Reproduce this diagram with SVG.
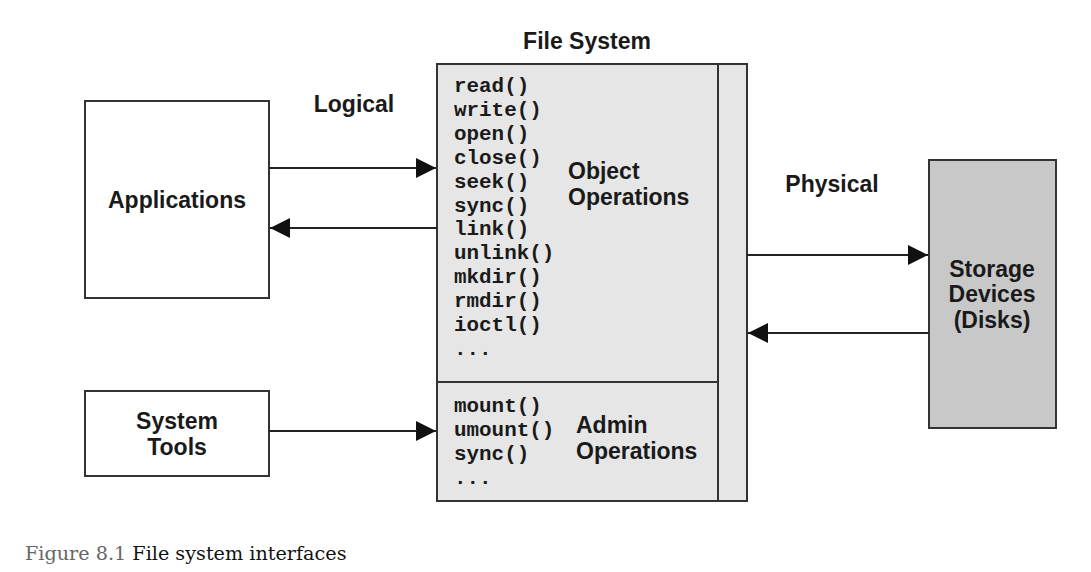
<svg xmlns="http://www.w3.org/2000/svg" width="1091" height="572" viewBox="0 0 1091 572">
<defs>
<style>
.box{stroke:#333;stroke-width:2}
.lbl{font-family:"Liberation Sans",Arial,sans-serif;font-weight:bold;font-size:23px;fill:#1a1a1a}
.mono{font-family:"Liberation Mono","Courier New",monospace;font-weight:bold;font-size:20.9px;fill:#1a1a1a}
.ln{stroke:#222;stroke-width:2;fill:none}
.cap{font-family:"DejaVu Serif","Liberation Serif",serif;font-size:19.2px}
</style>
<marker id="ah" viewBox="0 0 10 10" refX="10" refY="5" markerWidth="20" markerHeight="20" markerUnits="userSpaceOnUse" orient="auto">
<path d="M0,0 L10,5 L0,10 Z" fill="#111"/>
</marker>
</defs>
<rect width="1091" height="572" fill="#fff"/>
<g id="filesystem">
<rect class="box" x="437" y="64" width="310" height="437" fill="#e6e6e6"/>
<line class="box" x1="718" y1="64" x2="718" y2="501"/>
<line class="box" x1="437" y1="382" x2="718" y2="382"/>
<text class="lbl" x="587" y="49" text-anchor="middle">File System</text>
<g class="mono">
<text x="454" y="92">read()</text>
<text x="454" y="116">write()</text>
<text x="454" y="140">open()</text>
<text x="454" y="164">close()</text>
<text x="454" y="188">seek()</text>
<text x="454" y="212">sync()</text>
<text x="454" y="235">link()</text>
<text x="454" y="259">unlink()</text>
<text x="454" y="283">mkdir()</text>
<text x="454" y="307">rmdir()</text>
<text x="454" y="331">ioctl()</text>
<text x="454" y="355">...</text>
<text x="454" y="412">mount()</text>
<text x="454" y="436">umount()</text>
<text x="454" y="460">sync()</text>
<text x="454" y="484">...</text>
</g>
<text class="lbl" x="568" y="179">Object</text>
<text class="lbl" x="568" y="205">Operations</text>
<text class="lbl" x="576" y="433">Admin</text>
<text class="lbl" x="576" y="459">Operations</text>
</g>
<g id="applications">
<rect class="box" x="85" y="101" width="184" height="197" fill="#fff"/>
<text class="lbl" x="177" y="208" text-anchor="middle">Applications</text>
</g>
<g id="systemtools">
<rect class="box" x="85" y="391" width="184" height="85" fill="#fff"/>
<text class="lbl" x="177" y="429" text-anchor="middle">System</text>
<text class="lbl" x="177" y="455" text-anchor="middle">Tools</text>
</g>
<g id="storage">
<rect class="box" x="929" y="160" width="127" height="268" fill="#c8c8c8"/>
<text class="lbl" x="992" y="277" text-anchor="middle">Storage</text>
<text class="lbl" x="992" y="302" text-anchor="middle">Devices</text>
<text class="lbl" x="992" y="328" text-anchor="middle">(Disks)</text>
</g>
<g id="connectors">
<line class="ln" x1="269" y1="168" x2="436" y2="168" marker-end="url(#ah)"/>
<line class="ln" x1="437" y1="228" x2="270" y2="228" marker-end="url(#ah)"/>
<line class="ln" x1="269" y1="431" x2="436" y2="431" marker-end="url(#ah)"/>
<line class="ln" x1="747" y1="255" x2="928" y2="255" marker-end="url(#ah)"/>
<line class="ln" x1="929" y1="333" x2="748" y2="333" marker-end="url(#ah)"/>
</g>
<text class="lbl" x="354" y="112" text-anchor="middle">Logical</text>
<text class="lbl" x="832" y="192" text-anchor="middle">Physical</text>
<text class="cap" x="25" y="560"><tspan fill="#666">Figure 8.1</tspan><tspan fill="#111"> File system interfaces</tspan></text>
</svg>
